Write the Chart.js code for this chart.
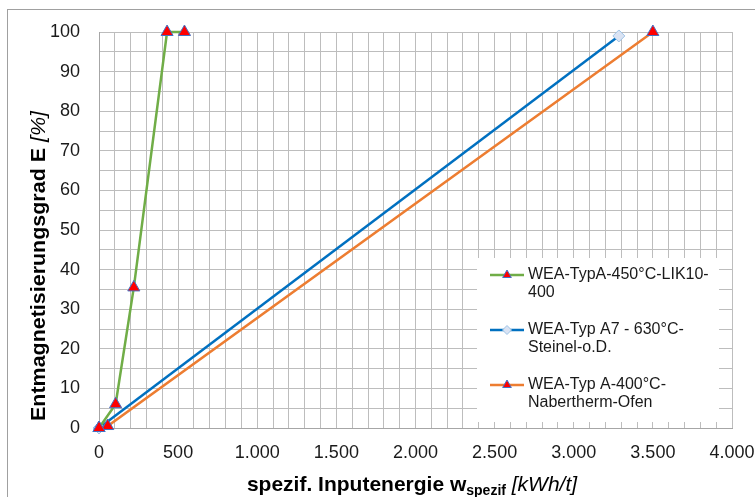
<!DOCTYPE html>
<html>
<head>
<meta charset="utf-8">
<script src="https://cdn.jsdelivr.net/npm/chart.js@4"></script>
<style>
  html, body { margin: 0; padding: 0; background: #fff; }
  #wrap { position: relative; width: 755px; height: 497px; overflow: hidden; }
</style>
</head>
<body>
<div id="wrap"><canvas id="chart" width="755" height="497"></canvas></div>
<script>
// Serien
const seriesNames = [
  ['WEA-TypA-450°C-LIK10-', '400'],
  ['WEA-Typ A7 - 630°C-', 'Steinel-o.D.'],
  ['WEA-Typ A-400°C-', 'Nabertherm-Ofen']
];
const lik10Energy = [0, 105, 220, 430, 540];
const lik10Grad   = [0, 6, 35.5, 100, 100];
const steinelEnergy = [0, 3285];
const steinelGrad   = [0, 99];
const naberEnergy = [0, 55, 3500];
const naberGrad   = [0, 0.5, 100];

const xTitleMain = 'spezif. Inputenergie w';
const xTitleSub = 'spezif';
const xTitleUnit = ' [kWh/t]';
const yTitleMain = 'Entmagnetisierungsgrad E ';
const yTitleUnit = '[%]';

const toPts = (xs, ys) => xs.map((x, i) => ({ x: x, y: ys[i] }));
const fmtDE = v => String(v).replace(/\B(?=(\d{3})+(?!\d))/g, '.');

const FONT = "'Liberation Sans', Arial, sans-serif";
const triangle = { pointStyle: 'triangle', pointRadius: 7, pointBackgroundColor: '#ff0000',
                   pointBorderColor: '#4472c4', pointBorderWidth: 1 };

const datasets = [
  Object.assign({ label: seriesNames[0].join(''), data: toPts(lik10Energy, lik10Grad),
    borderColor: '#70ad47', borderWidth: 2.5, order: 0, clip: false }, triangle),
  { label: seriesNames[1].join(''), data: toPts(steinelEnergy, steinelGrad),
    borderColor: '#0070c0', borderWidth: 2.5, order: 2, clip: false,
    pointStyle: 'rectRot', pointRadius: 6, pointBackgroundColor: '#dae3f3',
    pointBorderColor: '#9dc3e6', pointBorderWidth: 1 },
  Object.assign({ label: seriesNames[2].join(''), data: toPts(naberEnergy, naberGrad),
    borderColor: '#ed7d31', borderWidth: 2.5, order: 1, clip: false }, triangle)
];

// Achsentitel, Rahmen und Legende im Diagramm
const extras = {
  id: 'extras',
  afterDraw(chart) {
    const ctx = chart.ctx;
    ctx.save();
    // Rahmen
    ctx.strokeStyle = '#a0a0a0';
    ctx.lineWidth = 1;
    ctx.strokeRect(7.5, 9.5, 900, 600);

    // x-Titel
    ctx.fillStyle = '#000';
    ctx.textBaseline = 'alphabetic';
    const bold = "bold 21px " + FONT, sub = "bold 14px " + FONT, ital = "italic 21px " + FONT;
    ctx.font = bold; const w1 = ctx.measureText(xTitleMain).width;
    ctx.font = sub; const w2 = ctx.measureText(xTitleSub).width;
    ctx.font = ital; const w3 = ctx.measureText(xTitleUnit).width;
    let x = 412 - (w1 + w2 + w3) / 2;
    const by = 491;
    ctx.font = bold; ctx.fillText(xTitleMain, x, by); x += w1;
    ctx.font = sub; ctx.fillText(xTitleSub, x, by + 4); x += w2;
    ctx.font = ital; ctx.fillText(xTitleUnit, x, by);

    // y-Titel
    ctx.translate(45, 266);
    ctx.rotate(-Math.PI / 2);
    ctx.font = bold; const v1 = ctx.measureText(yTitleMain).width;
    ctx.font = ital; const v2 = ctx.measureText(yTitleUnit).width;
    ctx.scale(310 / (v1 + v2), 1);
    let t = -(v1 + v2) / 2;
    ctx.font = bold; ctx.fillText(yTitleMain, t, 0); t += v1;
    ctx.font = ital; ctx.fillText(yTitleUnit, t, 0);
    ctx.restore();

    // Legende
    ctx.save();
    ctx.fillStyle = '#fff';
    ctx.fillRect(477, 258, 242, 164);
    ctx.font = "16px " + FONT;
    ctx.textBaseline = 'middle';
    const rowY = [275, 330, 385];
    chart.data.datasets.forEach((ds, i) => {
      const y = rowY[i];
      ctx.strokeStyle = ds.borderColor;
      ctx.lineWidth = 2.5;
      ctx.beginPath(); ctx.moveTo(490, y); ctx.lineTo(524, y); ctx.stroke();
      ctx.fillStyle = ds.pointBackgroundColor;
      ctx.strokeStyle = ds.pointBorderColor;
      ctx.lineWidth = 1;
      Chart.helpers.drawPoint(ctx, {
        pointStyle: ds.pointStyle, radius: ds.pointStyle === 'triangle' ? 5 : 4.5,
        rotation: 0, borderWidth: 1
      }, 507, y);
      ctx.fillStyle = '#1a1a1a';
      seriesNames[i].forEach((line, k) => ctx.fillText(line, 528, y + k * 18));
    });
    ctx.restore();
  }
};

new Chart(document.getElementById('chart'), {
  type: 'line',
  data: { datasets: datasets },
  options: {
    responsive: false,
    animation: false,
    layout: { padding: { top: 32, right: 23, left: 0, bottom: 0 } },
    plugins: { legend: { display: false }, tooltip: { enabled: false } },
    elements: { line: { tension: 0 } },
    scales: {
      x: {
        type: 'linear', min: 0, max: 4000,
        afterFit: s => { s.height = 69; s.paddingRight = 0; s.paddingLeft = 0; },
        grid: { color: '#bdbdbd', drawTicks: false },
        border: { color: '#a6a6a6' },
        ticks: {
          stepSize: 100, autoSkip: false, maxRotation: 0, padding: 14,
          color: '#1a1a1a', font: { family: FONT, size: 18 },
          callback: v => (v % 500 === 0 ? fmtDE(v) : '')
        }
      },
      y: {
        min: 0, max: 100,
        afterFit: s => { s.width = 99; s.paddingTop = 0; s.paddingBottom = 0; },
        grid: { color: '#bdbdbd', drawTicks: false },
        border: { color: '#a6a6a6' },
        ticks: {
          stepSize: 5, autoSkip: false, padding: 19,
          color: '#1a1a1a', font: { family: FONT, size: 18 },
          callback: v => (v % 10 === 0 ? v : '')
        }
      }
    }
  },
  plugins: [extras]
});
</script>
</body>
</html>
